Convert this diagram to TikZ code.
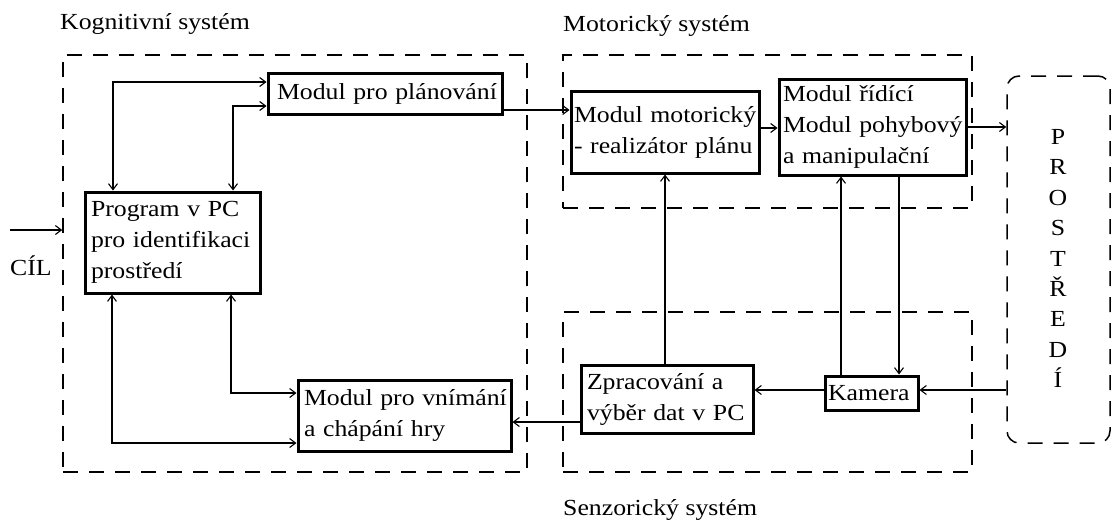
\documentclass[tikz,border=0pt]{standalone}
\usepackage{fontspec}
\setmainfont{Liberation Serif}[FakeStretch=1.12]
\usetikzlibrary{arrows.meta,calc}
\hyphenpenalty=10000
\exhyphenpenalty=10000
\tikzset{mytip/.tip={Straight Barb[length=6pt,width=9pt,line width=1.1pt]}}
\begin{document}
\begin{tikzpicture}[x=1pt,y=-1pt,
  txt/.style={font=\fontsize{23}{31}\selectfont},
  box/.style={draw, line width=3pt, txt, align=left, inner ysep=0pt, anchor=center,
    execute at begin node={\hyphenpenalty=10000\exhyphenpenalty=10000\lefthyphenmin=60}},
  grp/.style={draw, line width=1.5pt, dash pattern=on 15pt off 11pt, inner sep=0pt},
  conn/.style={line width=1.7pt, -mytip},
  conn2/.style={line width=1.7pt, mytip-mytip},
]
\useasboundingbox (0,0) rectangle (1112,522);

% group frames
\node[grp, minimum width=464pt, minimum height=417pt] (cog) at (295,263.5) {};
\node[grp, minimum width=409pt, minimum height=153pt] (mot) at (767.5,131.5) {};
\node[grp, minimum width=409pt, minimum height=160pt] (sen) at (767.5,392) {};
\node[grp, rounded corners=12pt, minimum width=103pt, minimum height=367pt] (prost) at (1058.5,259.5) {};

% labels
\node[txt, anchor=base west, inner sep=0pt] (lk) at (60,30) {Kognitivní systém};
\node[txt, anchor=base west, inner sep=0pt] (lm) at (563,31) {Motorický systém};
\node[txt, anchor=base west, inner sep=0pt] (ls) at (563,515) {Senzorický systém};
\node[txt, anchor=base west, inner sep=0pt] (cil) at (10,275) {CÍL};
\foreach \l [count=\i from 0] in {P,R,O,S,T,Ř,E,D,Í}
  \node[txt, anchor=base, inner sep=0pt] (p\i) at (1058,{144.5+30.4*\i}) {\l};

% boxes
\node[box, minimum width=234pt, minimum height=41pt, inner xsep=9pt, text width=216pt] (plan) at (385,93.5) {\mbox{Modul pro plánování}};
\node[box, minimum width=175pt, minimum height=101pt, inner xsep=6pt, text width=163pt] (prog) at (172.5,242.5) {\mbox{Program v PC}\\\mbox{pro identifikaci}\\\mbox{prostředí}};
\node[box, minimum width=213pt, minimum height=71pt, inner xsep=6pt, text width=201pt] (vnim) at (404.5,415.5) {\mbox{Modul pro vnímání}\\\mbox{a chápání hry}};
\node[box, minimum width=188pt, minimum height=82pt, inner xsep=3pt, text width=182pt] (motor) at (665,132) {\mbox{Modul motorický}\\\mbox{- realizátor plánu}};
\node[box, minimum width=187pt, minimum height=96pt, inner xsep=4pt, text width=179pt] (ridici) at (872.5,127) {\mbox{Modul řídící}\\\mbox{Modul pohybový}\\\mbox{a manipulační}};
\node[box, minimum width=172pt, minimum height=68pt, inner xsep=6pt, text width=160pt] (zprac) at (667,399) {\mbox{Zpracování a}\\\mbox{výběr dat v PC}};
\node[box, minimum width=93pt, minimum height=34pt, inner xsep=3pt, text width=87pt] (kamera) at (871.5,393) {\mbox{Kamera}};

% connectors
\coordinate (cilstart) at (10,230);
\draw[conn] (cilstart) -- (cilstart -| cog.west);
\draw[conn2] ([xshift=29.5pt]prog.north west) |- ([yshift=-10.5pt]plan.north west);
\draw[conn2] ([xshift=149.5pt]prog.north west) |- ([yshift=9.5pt]plan.south west);
\draw[conn2] ([xshift=28.5pt]prog.south west) |- ([yshift=9.5pt]vnim.south west);
\draw[conn2] ([xshift=147.5pt]prog.south west) |- ([yshift=-14.5pt]vnim.north west);
\draw[conn] ([yshift=5.5pt]plan.south east) -- ([yshift=5.5pt]plan.south east -| motor.west);
\draw[conn] ([yshift=4pt]motor.east) -- ([yshift=4pt]motor.east -| ridici.west);
\draw[conn] (ridici.east) -- (ridici.east -| prost.west);
\draw[conn] (motor.south |- zprac.north) -- (motor.south);
\draw[conn] ([xshift=17.5pt]kamera.north west) -- ([xshift=17.5pt]kamera.north west |- ridici.south);
\draw[conn] ([xshift=-20.5pt]kamera.north east |- ridici.south) -- ([xshift=-20.5pt]kamera.north east);
\draw[conn] ([yshift=3pt]kamera.west) -- ([yshift=3pt]kamera.west -| zprac.east);
\draw[conn] ([yshift=3pt]kamera.east -| prost.west) -- ([yshift=3pt]kamera.east);
\draw[conn] ([yshift=12.5pt]zprac.south west) -- ([yshift=12.5pt]zprac.south west -| vnim.east);
\end{tikzpicture}
\end{document}
